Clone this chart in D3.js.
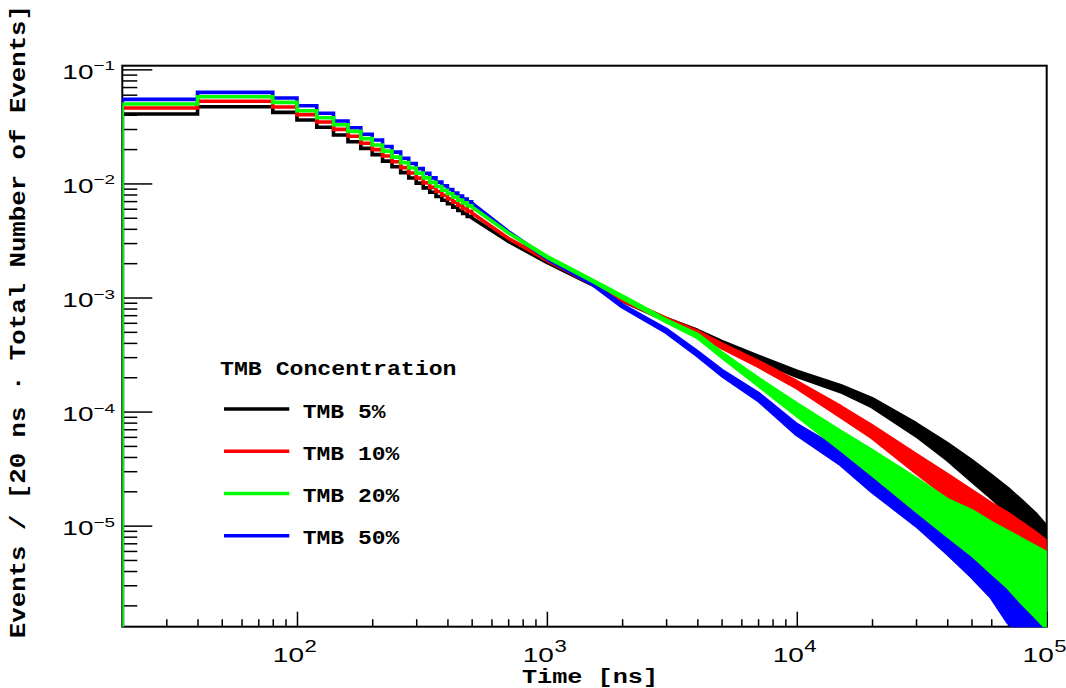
<!DOCTYPE html>
<html><head><meta charset="utf-8">
<script src="https://cdn.jsdelivr.net/npm/d3@7"></script>
<style>body{margin:0;background:#fff;} svg{display:block;}</style>
</head><body>
<svg id="chart" width="1066" height="688"></svg>
<script>
// ---------------- data ----------------
const seriesNames = ["TMB 5%", "TMB 10%", "TMB 20%", "TMB 50%"];
const binWidth = 20; // ns
const binStart = [20, 40, 60, 80, 100, 120, 140, 160, 180, 200, 220, 240,
                  260, 280, 300, 320, 340, 360, 380, 400, 420, 440, 460, 480];
const tmb5Bins  = [0.0406, 0.0470, 0.0470, 0.0420, 0.0360, 0.0311, 0.0266, 0.0232, 0.0203, 0.0179, 0.0157, 0.0140,
                   0.01243, 0.01117, 0.01006, 0.00915, 0.00836, 0.00768, 0.00713, 0.00663, 0.00620, 0.00580, 0.00546, 0.00514];
const tmb10Bins = [0.0458, 0.0525, 0.0525, 0.0468, 0.0401, 0.0346, 0.0298, 0.0259, 0.0225, 0.0198, 0.0174, 0.0155,
                   0.01375, 0.01235, 0.01113, 0.01012, 0.00924, 0.00849, 0.00788, 0.00733, 0.00686, 0.00642, 0.00604, 0.00569];
const tmb20Bins = [0.0497, 0.0576, 0.0576, 0.0514, 0.0434, 0.0377, 0.0327, 0.0286, 0.0247, 0.0217, 0.0192, 0.0170,
                   0.01521, 0.01367, 0.01231, 0.01119, 0.01022, 0.00939, 0.00872, 0.00811, 0.00759, 0.00713, 0.00675, 0.00638];
const tmb50Bins = [0.0546, 0.0629, 0.0629, 0.0561, 0.0480, 0.0412, 0.0353, 0.0308, 0.0270, 0.0240, 0.0211, 0.0188,
                   0.01665, 0.01496, 0.01348, 0.01226, 0.01119, 0.01027, 0.00953, 0.00886, 0.00825, 0.00774, 0.00729, 0.00689];

// long-time region: upper / lower envelope of the fluctuating histogram
const tailTimes = [500, 700, 1000, 1500, 2000, 3000, 4000, 5000, 7000, 10000, 15000, 20000,
                   30000, 40000, 50000, 60000, 70000, 80000, 90000, 100000];
const tmb5Hi  = [5.01e-3, 3.11e-3, 2.075e-3, 1.340e-3, 9.74e-4, 6.57e-4, 5.16e-4, 4.13e-4, 3.06e-4, 2.26e-4, 1.686e-4, 1.297e-4,
                 7.83e-5, 5.24e-5, 3.72e-5, 2.75e-5, 2.11e-5, 1.626e-5, 1.276e-5, 9.82e-6];
const tmb5Lo  = [5.01e-3, 3.11e-3, 2.033e-3, 1.313e-3, 9.36e-4, 6.31e-4, 4.86e-4, 3.89e-4, 2.82e-4, 2.04e-4, 1.494e-4, 1.104e-4,
                 6.15e-5, 3.79e-5, 2.48e-5, 1.762e-5, 1.302e-5, 1.002e-5, 7.87e-6, 6.56e-6];
const tmb10Hi = [5.54e-3, 3.31e-3, 2.160e-3, 1.359e-3, 9.84e-4, 6.57e-4, 5.06e-4, 3.93e-4, 2.76e-4, 1.827e-4, 1.104e-4, 7.52e-5,
                 4.20e-5, 2.80e-5, 2.03e-5, 1.562e-5, 1.276e-5, 1.043e-5, 8.70e-6, 7.26e-6];
const tmb10Lo = [5.54e-3, 3.31e-3, 2.117e-3, 1.331e-3, 9.45e-4, 6.31e-4, 4.76e-4, 3.63e-4, 2.50e-4, 1.620e-4, 9.02e-5, 5.91e-5,
                 2.92e-5, 1.798e-5, 1.251e-5, 9.62e-6, 7.56e-6, 6.43e-6, 5.58e-6, 5.05e-6];
const tmb20Hi = [6.25e-3, 3.69e-3, 2.295e-3, 1.443e-3, 1.035e-3, 6.38e-4, 4.76e-4, 3.28e-4, 1.961e-4, 1.173e-4, 6.67e-5, 4.55e-5,
                 2.585e-5, 1.693e-5, 1.356e-5, 1.064e-5, 8.88e-6, 7.56e-6, 6.56e-6, 5.81e-6];
const tmb20Lo = [6.25e-3, 3.69e-3, 2.249e-3, 1.414e-3, 9.94e-4, 6.13e-4, 4.48e-4, 3.02e-4, 1.703e-4, 9.21e-5, 4.64e-5, 2.80e-5,
                 1.356e-5, 8.19e-6, 5.58e-6, 3.89e-6, 2.87e-6, 2.08e-6, 1.60e-6, 1.25e-6];
const tmb50Hi = [6.75e-3, 3.80e-3, 2.226e-3, 1.359e-3, 8.63e-4, 5.27e-4, 3.35e-4, 2.305e-4, 1.449e-4, 7.68e-5, 4.55e-5, 2.86e-5,
                 1.562e-5, 1.002e-5, 7.11e-6, 5.26e-6, 3.89e-6, 3.11e-6, 2.65e-6, 2.25e-6];
const tmb50Lo = [6.75e-3, 3.80e-3, 2.182e-3, 1.331e-3, 8.29e-4, 4.96e-4, 3.09e-4, 2.083e-4, 1.258e-4, 6.28e-5, 3.43e-5, 1.989e-5,
                 1.002e-5, 5.70e-6, 3.58e-6, 2.35e-6, 1.417e-6, 1.1e-6, 1.0e-6, 1.0e-6];

const xTickExponents = [2, 3, 4, 5];
const yTickExponents = [-1, -2, -3, -4, -5];
const xDomain = [20, 1e5];
const yDomain = [1.30e-6, 0.1077];
const legendTitle = "TMB Concentration";
const xTitle = "Time [ns]";
const yTitle = "Events / [20 ns \u00b7 Total Number of Events]";

// ---------------- layout ----------------
const L = 122.3, R = 1046.7, T = 65.7, B = 626.7;
const svg = d3.select("#chart");
const x = d3.scaleLog().domain(xDomain).range([L, R]);
const y = d3.scaleLog().domain(yDomain).range([B, T]);

const series = [
  {name: seriesNames[0], color: "#000000", bins: tmb5Bins,  hi: tmb5Hi,  lo: tmb5Lo},
  {name: seriesNames[1], color: "#ff0000", bins: tmb10Bins, hi: tmb10Hi, lo: tmb10Lo},
  {name: seriesNames[2], color: "#00ff00", bins: tmb20Bins, hi: tmb20Hi, lo: tmb20Lo},
  {name: seriesNames[3], color: "#0000ff", bins: tmb50Bins, hi: tmb50Hi, lo: tmb50Lo}
];
const drawOrder = [0, 1, 3, 2];

svg.append("rect").attr("width", 1066).attr("height", 688).attr("fill", "#fff");

// ---------------- frame + axes (drawn under the histograms) ----------------
svg.append("rect").attr("x", L).attr("y", T).attr("width", R - L).attr("height", B - T)
  .attr("fill", "none").attr("stroke", "#000").attr("stroke-width", 2);

const yMajor = yTickExponents.map(e => Math.pow(10, e));
const yMinor = [];
for (let e = -6; e <= -1; e++) for (let m = 2; m <= 9; m++) {
  const v = m * Math.pow(10, e);
  if (v >= yDomain[0] && v <= yDomain[1]) yMinor.push(v);
}
const xMajor = xTickExponents.map(e => Math.pow(10, e));
const xMinor = [];
for (let e = 1; e <= 4; e++) for (let m = 2; m <= 9; m++) {
  const v = m * Math.pow(10, e);
  if (v >= xDomain[0] && v <= xDomain[1]) xMinor.push(v);
}

function styleAxis(g) {
  g.select(".domain").remove();
  g.selectAll(".tick line").attr("stroke", "#000").attr("stroke-width", 1.5);
}
svg.append("g").attr("transform", `translate(${L},0)`)
  .call(d3.axisRight(y).tickValues(yMajor).tickSize(30).tickFormat(""))
  .call(styleAxis);
svg.append("g").attr("transform", `translate(${L},0)`)
  .call(d3.axisRight(y).tickValues(yMinor).tickSize(15).tickFormat(""))
  .call(styleAxis);
svg.append("g").attr("transform", `translate(0,${B})`)
  .call(d3.axisTop(x).tickValues(xMajor).tickSize(15).tickFormat(""))
  .call(styleAxis);
svg.append("g").attr("transform", `translate(0,${B})`)
  .call(d3.axisTop(x).tickValues(xMinor).tickSize(7.5).tickFormat(""))
  .call(styleAxis);

// ---------------- histograms ----------------
svg.append("clipPath").attr("id", "plotclip").append("rect")
  .attr("x", L).attr("y", T).attr("width", R - L).attr("height", B - T + 0.5);

const plot = svg.append("g").attr("clip-path", "url(#plotclip)");
const line = d3.line().x(d => x(d[0])).y(d => y(d[1]));
const area = d3.area().x(d => x(d.t)).y0(d => y(d.lo)).y1(d => y(d.hi));

drawOrder.forEach(i => {
  const s = series[i];
  const pts = [[binStart[0], yDomain[0]]];
  s.bins.forEach((v, k) => { pts.push([binStart[k], v]); pts.push([binStart[k] + binWidth, v]); });
  pts.push([tailTimes[0], Math.sqrt(s.hi[0] * s.lo[0])]);
  plot.append("path").attr("d", line(pts))
    .attr("fill", "none").attr("stroke", s.color).attr("stroke-width", 3.6)
    .attr("stroke-linejoin", "miter").attr("stroke-linecap", "butt");
  const tail = tailTimes.map((t, k) => ({t, hi: s.hi[k], lo: s.lo[k]}));
  plot.append("path").attr("d", area(tail))
    .attr("fill", s.color).attr("stroke", s.color).attr("stroke-width", 3.6)
    .attr("stroke-linejoin", "round");
});

// ---------------- text ----------------
function txt(str, px, py, size, opts = {}) {
  const sx = opts.sx || 1;
  const rot = opts.rotate ? ` rotate(${opts.rotate})` : "";
  return svg.append("text")
    .attr("transform", `translate(${px},${py})${rot} scale(${sx},1)`)
    .attr("text-anchor", opts.anchor || "start")
    .attr("font-family", opts.family || "'Liberation Sans', Arial, sans-serif")
    .attr("font-weight", opts.weight || "normal")
    .attr("font-size", size)
    .attr("fill", "#000")
    .text(str);
}
const mono = "'Liberation Mono', 'Courier New', monospace";

yTickExponents.forEach(e => {
  const ty = y(Math.pow(10, e));
  txt("10", 93.5, ty + 9.5, 20, {anchor: "end", sx: 1.4});
  txt("\u2212" + Math.abs(e), 93.5, ty + 1, 13, {sx: 1.45});
});
xTickExponents.forEach(e => {
  const tx = x(Math.pow(10, e));
  txt("10", tx + 7, 662, 20, {anchor: "end", sx: 1.4});
  txt(String(e), tx + 7.5, 652, 17, {sx: 1.3});
});

txt(xTitle, 590, 683, 21, {anchor: "middle", family: mono, weight: "bold", sx: 1.2});
txt(yTitle, 25, 5, 22, {anchor: "end", family: mono, weight: "bold", sx: 1.17, rotate: -90});

// ---------------- legend ----------------
txt(legendTitle, 220, 375, 20, {family: mono, weight: "bold", sx: 1.16});
const legendRowY = [409, 451.3, 493.5, 535.8];
series.forEach((s, i) => {
  svg.append("line").attr("x1", 224).attr("x2", 289.3)
    .attr("y1", legendRowY[i]).attr("y2", legendRowY[i])
    .attr("stroke", s.color).attr("stroke-width", 3.4);
  txt(s.name, 302.7, legendRowY[i] + 8.5, 20, {family: mono, weight: "bold", sx: 1.15});
});
</script>
</body></html>
